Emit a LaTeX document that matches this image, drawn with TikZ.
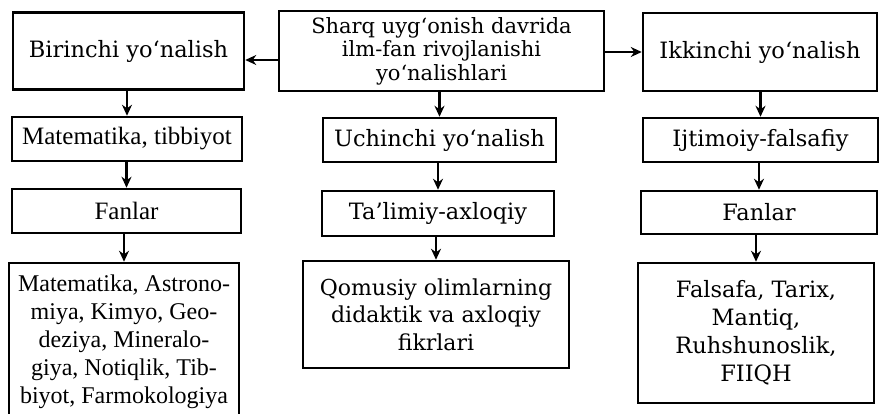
\documentclass[tikz,border=0pt]{standalone}
\usepackage{fontspec}
\setmainfont{Liberation Serif}
\newfontfamily\bookfont{DejaVu Serif}
\usetikzlibrary{arrows.meta}

\begin{document}
\begin{tikzpicture}[x=1pt,y=-1pt,
  blok/.style={draw, line width=2.5pt, inner sep=0pt, align=center},
  kit/.style={font=\bookfont\fontsize{22.5}{28}\selectfont},
  tms/.style={font=\fontsize{25}{28}\selectfont},
  strel/.style={line width=2.4pt, -{Stealth[length=11pt,width=10pt]}}]
\useasboundingbox (0,0) rectangle (880,414);
\clip (0,0) rectangle (880,414);
\node[blok, minimum width=325, minimum height=80, font=\bookfont\fontsize{21}{23.5}\selectfont] (yo0) at (441.5,51){Sharq uyg‘onish davrida\\ilm-fan rivojlanishi\\yo‘nalishlari};
\node[blok, kit, minimum width=231, minimum height=77] (yo1) at (128.5,51){Birinchi yo‘nalish};
\node[blok, tms, minimum width=230, minimum height=44] (yo2) at (127,139){Matematika, tibbiyot};
\node[blok, tms, minimum width=229, minimum height=44] (yo3) at (126.5,211){Fanlar};
\node[blok, font=\fontsize{24}{28}\selectfont, minimum width=230, minimum height=158] (yo4) at (124,342){Matematika, Astrono-\\miya, Kimyo, Geo-\\deziya, Mineralo-\\giya, Notiqlik, Tib-\\biyot, Farmokologiya};
\draw[strel](yo0.west |- 0,60) -- (yo1.east |- 0,60);
\draw[strel](yo2.north |- yo1.south) -- (yo2.north);
\draw[strel](yo3.north |- yo2.south) -- (yo3.north);
\draw[strel](yo4.north |- yo3.south) -- (yo4.north);
\node[blok, kit, minimum width=233, minimum height=44] (yo5) at (439.5,140){Uchinchi yo‘nalish};
\node[blok, kit, minimum width=232, minimum height=45] (yo6) at (438,213.5){Ta’limiy-axloqiy};
\node[blok, font=\bookfont\fontsize{22}{27.5}\selectfont, minimum width=266, minimum height=107] (yo7) at (436,314.5){Qomusiy olimlarning\\didaktik va axloqiy\\fikrlari};
\draw[strel](yo5.north |- yo0.south) -- (yo5.north);
\draw[strel](yo6.north |- yo5.south) -- (yo6.north);
\draw[strel](yo7.north |- yo6.south) -- (yo7.north);
\node[blok, kit, minimum width=234, minimum height=78] (yo8) at (760,52){Ikkinchi yo‘nalish};
\node[blok, kit, minimum width=235, minimum height=44] (yo9) at (760.5,140){Ijtimoiy-falsafiy};
\node[blok, kit, minimum width=236, minimum height=43] (yo10) at (759,212.5){Fanlar};
\node[blok, kit, minimum width=236, minimum height=140] (yo11) at (756,333){Falsafa, Tarix,\\Mantiq,\\Ruhshunoslik,\\FIIQH};
\draw[strel](yo0.east |- yo8.west) -- (yo8.west);
\draw[strel](yo9.north |- yo8.south) -- (yo9.north);
\draw[strel](yo10.north |- yo9.south) -- (yo10.north);
\draw[strel](yo11.north |- yo10.south) -- (yo11.north);
\end{tikzpicture}
\end{document}
